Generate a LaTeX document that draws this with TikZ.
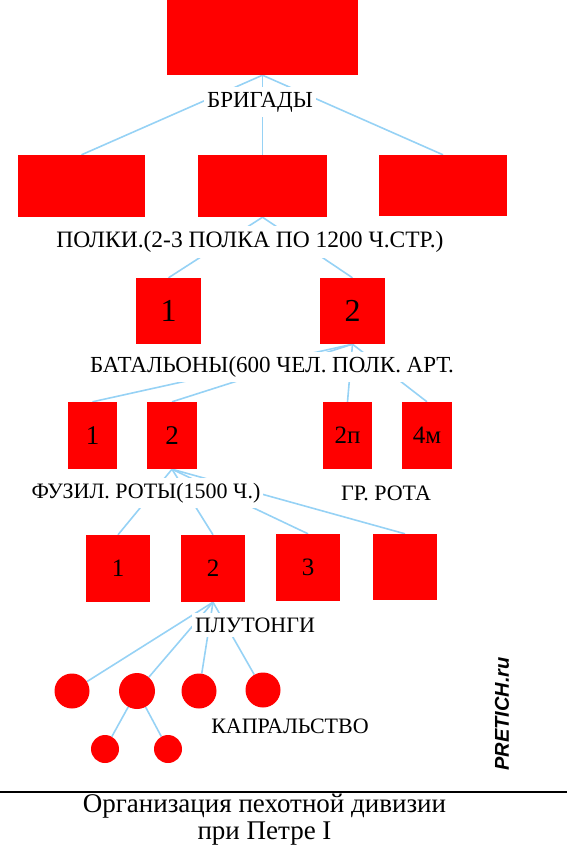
\documentclass[tikz,border=0pt]{standalone}
\usepackage{fontspec}
\setmainfont{Liberation Serif}
\newfontfamily\marksans{Liberation Sans}
\usetikzlibrary{backgrounds}

\tikzset{
  redbox/.style={fill=red, inner sep=0pt},
  reddot/.style={circle, fill=red, inner sep=0pt},
  tier/.style={fill=white, inner xsep=3pt, inner ysep=5pt, font=\fontsize{22}{24}\selectfont},
  link/.style={draw={rgb,255:red,150;green,210;blue,245}, line width=1.6pt}
}

\begin{document}
\begin{tikzpicture}[x=1pt,y=-1pt]
\useasboundingbox (0,0) rectangle (567,846);

% Division
\node[redbox, minimum width=191pt, minimum height=75pt] (div) at (262.5,37.5) {};
\node[tier, font=\fontsize{23}{25}\selectfont] (brig) at (260,102) {БРИГАДЫ};

% Brigades
\node[redbox, minimum width=127pt, minimum height=62pt] (brigL) at (81.5,186) {};
\node[redbox, minimum width=129pt, minimum height=62pt] (brigM) at (262.5,186) {};
\node[redbox, minimum width=128pt, minimum height=61pt] (brigR) at (443,185.5) {};
\node[tier, font=\fontsize{23.5}{25}\selectfont] (polk) at (250,242) {ПОЛКИ.(2-3 ПОЛКА ПО 1200 Ч.СТР.)};

% Regiments
\node[redbox, minimum width=65pt, minimum height=66pt, font=\fontsize{32}{34}\selectfont] (pol1) at (168.5,311) {1};
\node[redbox, minimum width=65pt, minimum height=66pt, font=\fontsize{32}{34}\selectfont] (pol2) at (352.5,311) {2};
\node[tier, font=\fontsize{23}{25}\selectfont] (bat) at (272,367) {БАТАЛЬОНЫ(600 ЧЕЛ. ПОЛК. АРТ.};

% Battalions and artillery
\node[redbox, minimum width=49pt, minimum height=67pt, font=\fontsize{27}{29}\selectfont] (bat1) at (92.5,435.5) {1};
\node[redbox, minimum width=50pt, minimum height=67pt, font=\fontsize{27}{29}\selectfont] (bat2) at (172,435.5) {2};
\node[redbox, minimum width=49pt, minimum height=67pt, font=\fontsize{25}{27}\selectfont] (art1) at (347.5,435.5) {2п};
\node[redbox, minimum width=50pt, minimum height=67pt, font=\fontsize{25}{27}\selectfont] (art2) at (427,435.5) {4м};
\node[tier] (fuz) at (146,493) {ФУЗИЛ. РОТЫ(1500 Ч.)};
\node[tier] (gren) at (386,493) {ГР. РОТА};

% Companies
\node[redbox, minimum width=64pt, minimum height=67pt, font=\fontsize{25}{27}\selectfont] (rot1) at (118,568.5) {1};
\node[redbox, minimum width=64pt, minimum height=67pt, font=\fontsize{25}{27}\selectfont] (rot2) at (213,568.5) {2};
\node[redbox, minimum width=64pt, minimum height=67pt, font=\fontsize{25}{27}\selectfont] (rot3) at (308,567.5) {3};
\node[redbox, minimum width=64pt, minimum height=66pt] (rot4) at (405,567) {};
\node[tier] (plut) at (255,625) {ПЛУТОНГИ};

% Platoons and corporalships
\node[reddot, minimum size=35pt] (pl1) at (72,691) {};
\node[reddot, minimum size=36pt] (pl2) at (137,691) {};
\node[reddot, minimum size=35pt] (pl3) at (199,691) {};
\node[reddot, minimum size=35pt] (pl4) at (263,690) {};
\node[reddot, minimum size=28pt] (kap1) at (105,749) {};
\node[reddot, minimum size=28pt] (kap2) at (168,749) {};
\node[tier] (kap) at (290,726) {КАПРАЛЬСТВО};

% Connectors
\begin{pgfonlayer}{background}
\draw[link] (div.south) -- (brigL.north);
\draw[link] (div.south) -- (brigM.north);
\draw[link] (div.south) -- (brigR.north);
\draw[link] (brigM.south) -- (pol1.north);
\draw[link] (brigM.south) -- (pol2.north);
\foreach \b in {bat1,bat2,art1,art2}
  \draw[link] (pol2.south) -- (\b.north);
\foreach \r in {rot1,rot2,rot3,rot4}
  \draw[link] (bat2.south) -- (\r.north);
\foreach \p in {pl1,pl2,pl3,pl4}
  \draw[link] (rot2.south) -- (\p);
\draw[link] (pl2) -- (kap1);
\draw[link] (pl2) -- (kap2);
\end{pgfonlayer}

% Watermark
\node[rotate=90, font=\marksans\bfseries\itshape\fontsize{20}{22}\selectfont] (mark) at (502,714) {PRETICH.ru};

% Caption
\draw[line width=2pt] (0,792) -- (567,792);
\node[font=\fontsize{27}{30}\selectfont] (cap1) at (264.5,806) {Организация пехотной дивизии};
\node[font=\fontsize{27}{30}\selectfont] (cap2) at (264.5,834) {при Петре I};
\end{tikzpicture}
\end{document}
